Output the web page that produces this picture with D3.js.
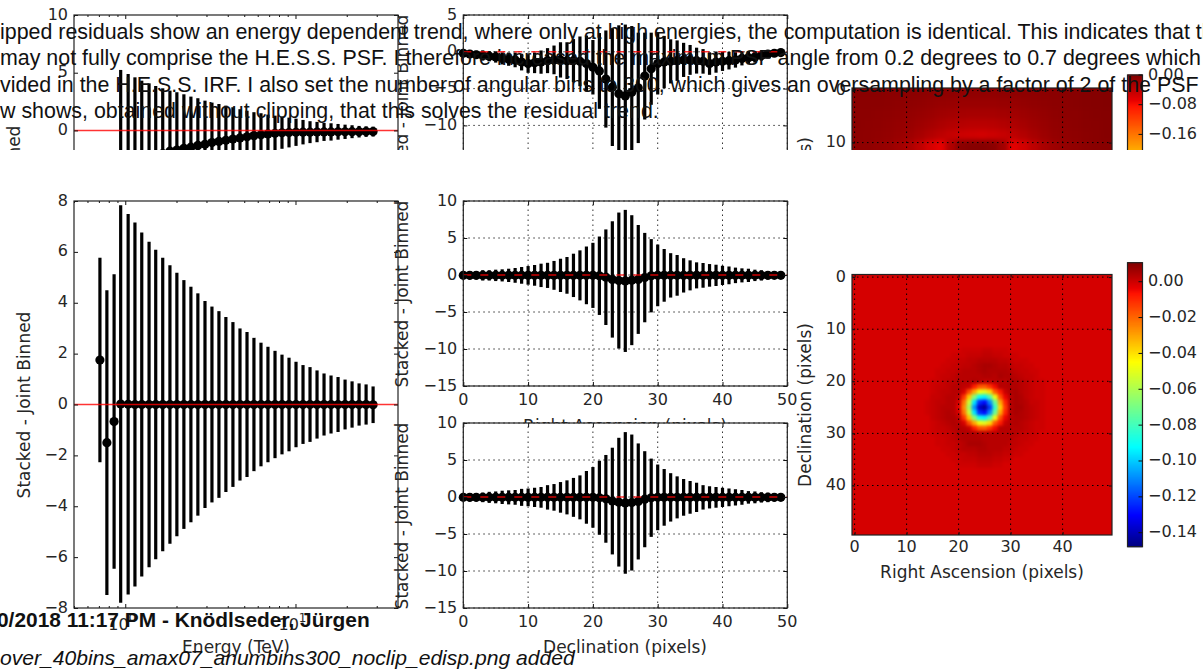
<!DOCTYPE html>
<html>
<head>
<meta charset="utf-8">
<script src="https://cdn.jsdelivr.net/npm/d3@7"></script>
<style>
    html, body { margin: 0; padding: 0; background: #fff; overflow: hidden; }
    svg { display: block; }
    .tick-label, .axis-label { font-family: "DejaVu Sans", sans-serif; fill: #262626; }
    .tick-label { font-size: 16px; }
    .axis-label { font-size: 17px; }
    .page-text { font-family: "Liberation Sans", Arial, sans-serif; font-size: 21.4px; fill: #111; }
</style>
</head>
<body>
<div id="chart"></div>
<script>
// Energy axis of the spectrum panels (TeV)
var energyBins = [0.71, 0.78, 0.86, 0.94, 1.04, 1.14, 1.25, 1.38, 1.51, 1.66,
    1.83, 2.01, 2.21, 2.43, 2.67, 2.94, 3.23, 3.55, 3.90, 4.29,
    4.72, 5.19, 5.70, 6.27, 6.89, 7.58, 8.33, 9.16, 10.07, 11.07,
    12.17, 13.38, 14.71, 16.17, 17.78, 19.55, 21.49, 23.63, 25.98, 28.56];

// Upper figure, clipped by the page: spectrum residuals
var clipEnergyResidual = [-9, -9, -9, -3.6, -3.3, -3.0, -2.8, -2.5, -2.3, -2.0,
    -1.8, -1.7, -1.55, -1.45, -1.3, -1.2, -1.05, -0.95, -0.85, -0.75,
    -0.65, -0.55, -0.45, -0.38, -0.3, -0.25, -0.2, -0.18, -0.16, -0.15,
    -0.15, -0.14, -0.13, -0.13, -0.12, -0.12, -0.11, -0.11, -0.1, -0.1];
var clipEnergyError = [4, 5, 5, 8.84, 8.19, 7.6, 7.11, 6.58, 6.15, 5.65,
    5.25, 5.01, 4.68, 4.38, 4.09, 3.78, 3.46, 3.24, 3.0, 2.76,
    2.49, 2.26, 2.03, 1.87, 1.67, 1.53, 1.39, 1.29, 1.18, 1.06,
    0.95, 0.88, 0.78, 0.75, 0.68, 0.62, 0.56, 0.5, 0.46, 0.43];

// Lower figure: spectrum residuals
var energyResidual = [1.75, -1.5, -0.67, 0.02, 0.01, 0, 0, 0, 0, 0,
    0, 0, 0, 0, 0, 0, 0, 0, 0, 0,
    0, 0, 0, 0, 0, 0, 0, 0, 0, 0,
    0, 0, 0, 0, 0, 0, 0, 0, 0, -0.01];
var energyError = [4.02, 5.99, 5.79, 7.81, 7.48, 7.15, 6.76, 6.40, 6.08, 5.77,
    5.47, 5.18, 4.89, 4.63, 4.37, 4.07, 3.85, 3.67, 3.44, 3.24,
    2.99, 2.85, 2.62, 2.43, 2.27, 2.11, 1.96, 1.84, 1.68, 1.55,
    1.47, 1.34, 1.22, 1.14, 1.08, 0.98, 0.91, 0.83, 0.79, 0.72];

// Pixel profiles
var pixelBins = d3.range(0, 50);

var clipRaResidual = [-0.2, -0.3, -0.4, -0.5, -0.6, -0.7, -0.9, -1.0, -1.1, -1.4,
    -1.6, -1.5, -1.4, -1.2, -1.1, -1.1, -1.2, -1.2, -1.3, -1.6,
    -2.1, -2.6, -3.7, -4.8, -5.7, -6.0, -5.5, -4.9, -3.3, -2.3,
    -1.6, -1.4, -1.3, -1.2, -1.1, -1.1, -1.2, -1.3, -1.6, -1.4,
    -1.3, -1.2, -1.1, -0.9, -0.8, -0.7, -0.5, -0.3, -0.2, -0.1];
var clipRaError = [0.5, 0.55, 0.55, 0.7, 0.7, 0.77, 0.82, 0.9, 1.0, 1.13,
    1.26, 1.4, 1.58, 1.7, 1.95, 2.4, 2.5, 2.93, 3.38, 3.8,
    3.7, 5.15, 6.6, 8.0, 9.3, 9.7, 9.0, 7.5, 5.9, 4.9,
    4.2, 3.56, 3.0, 2.75, 2.32, 2.03, 1.76, 1.67, 1.53, 1.44,
    1.3, 1.2, 1.05, 0.95, 0.9, 0.77, 0.7, 0.55, 0.45, 0.3];

var raResidual = [-0.05, -0.05, -0.05, -0.05, -0.05, -0.05, -0.05, -0.05, -0.05, -0.05,
    -0.05, -0.05, -0.05, -0.05, -0.05, -0.05, -0.05, -0.05, -0.05, -0.05,
    -0.05, -0.1, -0.3, -0.6, -0.75, -0.8, -0.7, -0.6, -0.35, -0.1,
    -0.05, -0.05, -0.05, -0.05, -0.05, -0.05, -0.05, -0.05, -0.05, -0.05,
    -0.05, -0.05, -0.05, -0.05, -0.05, -0.05, -0.05, -0.05, -0.05, -0.05];
var raError = [0.5, 0.55, 0.55, 0.7, 0.7, 0.77, 0.82, 0.9, 1.0, 1.13,
    1.26, 1.4, 1.58, 1.7, 1.95, 2.25, 2.48, 2.93, 3.38, 3.9,
    4.4, 5.3, 6.46, 7.86, 9.19, 9.6, 8.78, 7.36, 6.04, 4.95,
    4.17, 3.56, 3.0, 2.75, 2.32, 2.03, 1.76, 1.67, 1.53, 1.44,
    1.3, 1.2, 1.05, 0.95, 0.9, 0.77, 0.7, 0.55, 0.45, 0.3];

var decResidual = [-0.05, -0.05, -0.05, -0.05, -0.05, -0.05, -0.05, -0.05, -0.05, -0.05,
    -0.05, -0.05, -0.05, -0.05, -0.05, -0.05, -0.05, -0.05, -0.05, -0.05,
    -0.05, -0.1, -0.25, -0.55, -0.7, -0.8, -0.75, -0.6, -0.3, -0.1,
    -0.05, -0.05, -0.05, -0.05, -0.05, -0.05, -0.05, -0.05, -0.05, -0.05,
    -0.05, -0.05, -0.05, -0.05, -0.05, -0.05, -0.05, -0.05, -0.05, -0.05];
var decError = [0.45, 0.55, 0.55, 0.65, 0.75, 0.8, 0.9, 0.95, 1.0, 1.15,
    1.2, 1.3, 1.4, 1.65, 1.8, 2.07, 2.3, 2.63, 2.97, 3.56,
    4.1, 5.0, 5.93, 7.21, 8.7, 9.57, 9.19, 7.84, 6.49, 5.29,
    4.44, 3.83, 3.27, 2.84, 2.48, 2.21, 1.98, 1.65, 1.5, 1.4,
    1.3, 1.2, 1.1, 1.0, 0.85, 0.8, 0.7, 0.65, 0.55, 0.45];

// Residual map of the lower figure, central part only, in units of 0.001
var mapBackground = -1;
var mapFirstCell = 14;
var mapPatch = [
    [-1, -1, -1, -1, -1, -1, -1, 0, 0, 0, 0, 1, 1, 0, 0, 0, -1, -1, -1, -1, -1, -1, -1],
    [-1, -1, -1, -1, -1, 0, 0, 0, 1, 1, 1, 2, 2, 1, 1, 0, 0, 0, -1, -1, -1, -1, -1],
    [-1, -1, -1, -1, 0, 0, 1, 1, 2, 2, 3, 3, 3, 3, 2, 2, 1, 0, 0, 0, -1, -1, -1],
    [-1, -1, -1, 0, 0, 1, 1, 2, 2, 3, 4, 5, 5, 4, 3, 3, 2, 1, 1, 0, 0, -1, -1],
    [-1, -1, 0, 0, 1, 1, 2, 3, 3, 3, 4, 5, 4, 4, 4, 4, 3, 2, 1, 1, 0, 0, -1],
    [-1, -1, 0, 1, 1, 2, 3, 3, 3, 3, 3, 4, 4, 3, 5, 4, 4, 3, 2, 1, 1, 0, -1],
    [-1, 0, 0, 1, 2, 2, 3, 3, 3, 4, 3, 2, 2, 3, 3, 3, 4, 4, 3, 2, 1, 0, 0],
    [-1, 0, 1, 1, 2, 3, 3, 2, 1, -8, -17, -18, -12, -5, 3, 3, 4, 4, 3, 2, 1, 0, 0],
    [-1, 0, 1, 2, 2, 3, 3, -1, -16, -31, -47, -50, -40, -18, -8, 1, 4, 5, 3, 2, 1, 0, 0],
    [-1, 1, 1, 2, 3, 3, 2, -12, -36, -67, -90, -94, -78, -48, -17, -4, 3, 5, 4, 2, 1, 0, 0],
    [0, 1, 2, 2, 3, 3, -1, -22, -54, -96, -124, -129, -110, -73, -31, -9, 3, 5, 4, 3, 1, 1, 0],
    [0, 1, 2, 3, 3, 3, -3, -26, -62, -108, -138, -144, -122, -83, -38, -12, 3, 5, 5, 3, 2, 1, 0],
    [0, 1, 2, 3, 4, 3, -1, -22, -54, -96, -124, -129, -110, -73, -31, -9, 3, 5, 4, 3, 2, 1, 0],
    [-1, 1, 2, 3, 4, 4, 2, -12, -36, -67, -90, -94, -78, -48, -17, -4, 3, 4, 4, 3, 2, 1, 0],
    [-1, 0, 1, 2, 3, 4, 3, -1, -16, -31, -47, -50, -40, -18, -8, 1, 3, 4, 3, 2, 1, 0, 0],
    [-1, 0, 1, 1, 2, 3, 4, 3, 1, -8, -17, -18, -12, -5, 3, 3, 3, 3, 3, 2, 1, 0, 0],
    [-1, 0, 0, 1, 1, 2, 4, 4, 4, 4, 3, 3, 3, 3, 3, 3, 3, 3, 2, 1, 1, 0, -1],
    [-1, -1, 0, 0, 1, 2, 3, 4, 4, 4, 4, 3, 3, 3, 3, 3, 3, 2, 1, 1, 0, 0, -1],
    [-1, -1, 0, 0, 1, 1, 2, 3, 5, 5, 5, 4, 3, 3, 3, 3, 2, 2, 1, 0, 0, -1, -1],
    [-1, -1, -1, 0, 0, 1, 2, 3, 3, 3, 4, 4, 3, 3, 3, 2, 2, 1, 0, 0, -1, -1, -1],
    [-1, -1, -1, -1, 0, 0, 1, 1, 2, 2, 3, 3, 3, 2, 2, 1, 1, 0, 0, -1, -1, -1, -1],
    [-1, -1, -1, -1, -1, 0, 0, 1, 1, 1, 2, 2, 2, 1, 1, 0, 0, -1, -1, -1, -1, -1, -1],
    [-1, -1, -1, -1, -1, -1, 0, 0, 0, 0, 1, 1, 1, 0, 0, -1, -1, -1, -1, -1, -1, -1, -1]
];

// Residual map of the upper figure, only the top rows show. Cells are 2x2 pixels
var clipMapRows = [
    [-6, -6, -6, -7, -7, -8, -8, -9, -10, -10, -11, -11, -11, -11, -10, -10, -9, -9, -8, -7, -6, -5, -4, -3, -2],
    [-7, -7, -7, -8, -9, -10, -11, -13, -15, -16, -17, -17, -17, -17, -16, -15, -13, -11, -10, -8, -7, -5, -4, -3, -2],
    [-8, -8, -9, -10, -11, -13, -15, -18, -21, -23, -25, -26, -26, -26, -24, -22, -19, -16, -13, -10, -8, -7, -5, -4, -3],
    [-8, -9, -10, -12, -14, -16, -20, -24, -29, -33, -36, -38, -38, -37, -34, -30, -25, -20, -16, -12, -10, -8, -6, -5, -4],
    [-9, -10, -11, -13, -16, -20, -26, -33, -40, -46, -50, -52, -54, -51, -47, -41, -34, -26, -19, -14, -11, -9, -7, -6, -4],
    [-9, -10, -13, -16, -22, -30, -42, -57, -67, -32, -7, -4, -4, -7, -22, -64, -54, -40, -27, -19, -14, -11, -8, -6, -5],
    [-9, -10, -13, -16, -22, -30, -42, -57, -67, -32, -7, -4, -4, -7, -22, -64, -54, -40, -27, -19, -14, -11, -8, -6, -5]
];

// Tick labels
var energyYTicks = [-8, -6, -4, -2, 0, 2, 4, 6, 8];
var clipEnergyYTicks = [-5, 0, 5, 10];
var profileXTicks = [0, 10, 20, 30, 40, 50];
var profileYTicks = [-15, -10, -5, 0, 5, 10];
var clipProfileYTicks = [-15, -10, -5, 0, 5];
var energyMajorTicks = [1, 10];
var energyMinorTicks = [0.5, 0.6, 0.7, 0.8, 0.9, 2, 3, 4, 5, 6, 7, 8, 9, 20, 30, 40];
var mapTicks = [0, 10, 20, 30, 40];
var colorbarTicks = [0, -0.02, -0.04, -0.06, -0.08, -0.10, -0.12, -0.14];
var clipColorbarTicks = [0, -0.08, -0.16];

// Text of the page the figures are embedded in
var pageLines = [
    "ipped residuals show an energy dependent trend, where only at high energies, the computation is identical. This indicates that th",
    "may not fully comprise the H.E.S.S. PSF. I therefore increased the maximum PSF angle from 0.2 degrees to 0.7 degrees which c",
    "vided in the H.E.S.S. IRF. I also set the number of angular bins to 300, which gives an oversampling by a factor of 2 of the PSF",
    "w shows, obtained without clipping, that this solves the residual trend."
];
var pageAuthor = "0/2018 11:17 PM - Knödlseder, Jürgen";
var pageFile = "over_40bins_amax07_anumbins300_noclip_edisp.png added";

var svg = d3.select("#chart").append("svg")
    .attr("width", 1203)
    .attr("height", 669);

svg.append("rect").attr("width", 1203).attr("height", 669).attr("fill", "#fff");

var defs = svg.append("defs");
defs.append("clipPath").attr("id", "pageClip")
    .append("rect").attr("width", 1203).attr("height", 150);

function addBlur(id, dev) {
    defs.append("filter").attr("id", id)
        .attr("x", "-5%").attr("y", "-5%").attr("width", "110%").attr("height", "110%")
        .attr("color-interpolation-filters", "sRGB")
        .append("feGaussianBlur").attr("stdDeviation", dev);
}
addBlur("mapBlur", 1.8);
addBlur("clipMapBlur", 2.5);

function jet(t) {
    return d3.scaleLinear()
        .domain([0, 0.11, 0.35, 0.5, 0.65, 0.89, 0.91, 1])
        .range(["#000080", "#0000ff", "#00ffff", "#7fff7f", "#ffff00", "#ff1400", "#e80000", "#800000"])
        .clamp(true)(t);
}

// Ticks point into the axes and are drawn on all four sides
function addAxes(g, x, y, xTicks, yTicks, size) {
    var box = { left: x.range()[0], right: x.range()[1], top: y.range()[1], bottom: y.range()[0] };
    [
        [d3.axisBottom(x).tickValues(xTicks).tickSize(-size), box.bottom, "y"],
        [d3.axisTop(x).tickValues(xTicks).tickSize(-size), box.top, "y"],
        [d3.axisLeft(y).tickValues(yTicks).tickSize(-size), box.left, "x"],
        [d3.axisRight(y).tickValues(yTicks).tickSize(-size), box.right, "x"]
    ].forEach(function(a) {
        var axis = g.append("g")
            .attr("transform", a[2] === "y" ? "translate(0," + a[1] + ")" : "translate(" + a[1] + ",0)")
            .call(a[0].tickFormat("").tickSizeOuter(0));
        axis.select(".domain").remove();
        axis.selectAll("line").attr("stroke", "#111");
    });
}

function addTickLabels(g, x, y, xTicks, yTicks, xGap, yGap, format) {
    g.selectAll(".x-label").data(xTicks).enter().append("text")
        .attr("class", "tick-label")
        .attr("x", function(d) { return x(d); })
        .attr("y", y.range()[0] + xGap)
        .attr("text-anchor", "middle")
        .attr("dominant-baseline", "middle")
        .text(function(d) { return d; });
    g.selectAll(".y-label").data(yTicks).enter().append("text")
        .attr("class", "tick-label")
        .attr("x", x.range()[0] - yGap)
        .attr("y", function(d) { return y(d); })
        .attr("text-anchor", "end")
        .attr("dominant-baseline", "middle")
        .text(function(d) { return format ? format(d) : d3.format("d")(d); });
}

function addVerticalLabel(g, text, x, y) {
    g.append("text")
        .attr("class", "axis-label")
        .attr("transform", "translate(" + x + "," + y + ") rotate(-90)")
        .attr("text-anchor", "middle")
        .attr("dominant-baseline", "middle")
        .text(text);
}

function addHorizontalLabel(g, text, x, y) {
    g.append("text")
        .attr("class", "axis-label")
        .attr("x", x)
        .attr("y", y)
        .attr("text-anchor", "middle")
        .attr("dominant-baseline", "middle")
        .text(text);
}

function addFrame(g, x, y) {
    g.append("rect")
        .attr("x", x.range()[0])
        .attr("y", y.range()[1])
        .attr("width", x.range()[1] - x.range()[0])
        .attr("height", y.range()[0] - y.range()[1])
        .attr("fill", "none")
        .attr("stroke", "#222")
        .attr("stroke-width", 1.2);
}

function addGrid(g, x, y, xTicks, yTicks, colour) {
    g.selectAll(".grid-x").data(xTicks).enter().append("line")
        .attr("x1", function(d) { return x(d); })
        .attr("x2", function(d) { return x(d); })
        .attr("y1", y.range()[0])
        .attr("y2", y.range()[1])
        .attr("stroke", colour)
        .attr("stroke-dasharray", "1.5,3.5");
    g.selectAll(".grid-y").data(yTicks).enter().append("line")
        .attr("x1", x.range()[0])
        .attr("x2", x.range()[1])
        .attr("y1", function(d) { return y(d); })
        .attr("y2", function(d) { return y(d); })
        .attr("stroke", colour)
        .attr("stroke-dasharray", "1.5,3.5");
}

function addPanelBackground(g, x, y) {
    g.append("rect")
        .attr("x", x.range()[0])
        .attr("y", y.range()[1])
        .attr("width", x.range()[1] - x.range()[0])
        .attr("height", y.range()[0] - y.range()[1])
        .attr("fill", "#fff");
}

function addErrorbars(g, x, y, bins, values, errors) {
    g.selectAll(".bar").data(bins).enter().append("line")
        .attr("x1", function(d) { return x(d); })
        .attr("x2", function(d) { return x(d); })
        .attr("y1", function(d, i) { return y(values[i] - errors[i]); })
        .attr("y2", function(d, i) { return y(values[i] + errors[i]); })
        .attr("stroke", "#000")
        .attr("stroke-width", 3.2);
    g.selectAll(".dot").data(bins).enter().append("circle")
        .attr("cx", function(d) { return x(d); })
        .attr("cy", function(d, i) { return y(values[i]); })
        .attr("r", 4.6)
        .attr("fill", "#000");
}

function addZeroLine(g, x, y, dash) {
    g.append("line")
        .attr("x1", x.range()[0])
        .attr("x2", x.range()[1])
        .attr("y1", y(0))
        .attr("y2", y(0))
        .attr("stroke", "#f00")
        .attr("stroke-opacity", 0.8)
        .attr("stroke-width", 1.5)
        .attr("stroke-dasharray", dash);
}

// Spectrum panel with logarithmic energy axis
function drawEnergyPanel(g, top, bottom, yDomain, yTicks, values, errors) {
    var x = d3.scaleLog().domain([0.5, 40]).range([74, 398]);
    var y = d3.scaleLinear().domain(yDomain).range([bottom, top]);

    addPanelBackground(g, x, y);
    var plot = g.append("g");
    addErrorbars(plot, x, y, energyBins, values, errors);
    addZeroLine(g, x, y, null);
    addAxes(g, x, y, energyMajorTicks, yTicks, 4);
    addAxes(g, x, y, energyMinorTicks, [], 2);
    addFrame(g, x, y);

    g.selectAll(".y-label").data(yTicks).enter().append("text")
        .attr("class", "tick-label")
        .attr("x", 68)
        .attr("y", function(d) { return y(d); })
        .attr("text-anchor", "end")
        .attr("dominant-baseline", "middle")
        .text(function(d) { return d3.format("d")(d); });

    g.selectAll(".x-label").data(energyMajorTicks).enter().append("text")
        .attr("class", "tick-label")
        .attr("x", function(d) { return x(d) - 3; })
        .attr("y", bottom + 17)
        .attr("text-anchor", "middle")
        .attr("dominant-baseline", "middle")
        .text("10")
        .append("tspan")
        .attr("dy", -7)
        .style("font-size", "12px")
        .text(function(d) { return d === 1 ? "0" : "1"; });
}

// Profile panel with linear pixel axis
function drawProfilePanel(g, top, bottom, yDomain, yTicks, values, errors) {
    var x = d3.scaleLinear().domain([0, 50]).range([463.3, 787.3]);
    var y = d3.scaleLinear().domain(yDomain).range([bottom, top]);

    addPanelBackground(g, x, y);
    addGrid(g, x, y, profileXTicks, yTicks, "#333");
    addErrorbars(g, x, y, pixelBins, values, errors);
    addZeroLine(g, x, y, "8,9");
    addAxes(g, x, y, profileXTicks, yTicks, 4);
    addFrame(g, x, y);
    addTickLabels(g, x, y, profileXTicks, yTicks, 14, 6);
}

// Colour bar drawn as thin slices
function drawColorbar(g, top, bottom, domain, ticks, format) {
    var y = d3.scaleLinear().domain(domain).range([bottom, top]);
    var levels = d3.range(0, 1, 1 / 256);
    g.selectAll(".slice").data(levels).enter().append("rect")
        .attr("x", 1127.5)
        .attr("width", 15)
        .attr("y", function(d) { return bottom - (d + 1 / 256) * (bottom - top) - 0.5; })
        .attr("height", (bottom - top) / 256 + 1)
        .attr("fill", function(d) { return jet(d); });
    g.append("rect")
        .attr("x", 1127.5).attr("y", top)
        .attr("width", 15).attr("height", bottom - top)
        .attr("fill", "none").attr("stroke", "#222").attr("stroke-width", 1.2);
    g.selectAll(".cb-tick").data(ticks).enter().append("line")
        .attr("x1", 1138.5).attr("x2", 1142.5)
        .attr("y1", function(d) { return y(d); })
        .attr("y2", function(d) { return y(d); })
        .attr("stroke", "#111");
    g.selectAll(".cb-label").data(ticks).enter().append("text")
        .attr("class", "tick-label")
        .attr("x", 1148)
        .attr("y", function(d) { return y(d); })
        .attr("dominant-baseline", "middle")
        .text(function(d) { return format(d); });
}

var percentFormat = d3.format(".2f");

// Upper figure, cut off by the page at y = 150
var clipFigure = svg.append("g").attr("clip-path", "url(#pageClip)");

addVerticalLabel(clipFigure, "Stacked - Joint Binned", 15, 219);
addVerticalLabel(clipFigure, "Stacked - Joint Binned", 403, 108);
addVerticalLabel(clipFigure, "Declination (pixels)", 806, 219);

drawEnergyPanel(clipFigure, 15, 419, [-25, 10], clipEnergyYTicks, clipEnergyResidual, clipEnergyError);
drawProfilePanel(clipFigure, 15, 199, [-20, 5], clipProfileYTicks, clipRaResidual, clipRaError);

(function() {
    var x = d3.scaleLinear().domain([-0.5, 49.5]).range([852, 1112]);
    var y = d3.scaleLinear().domain([49.5, -0.5]).range([348, 88]);
    var colour = d3.scaleLinear().domain([-0.765, 0]).range([0, 1]);
    var rows = d3.range(0, clipMapRows.length);

    defs.append("clipPath").attr("id", "clipMapBox").append("rect")
        .attr("x", 852).attr("y", 88).attr("width", 260).attr("height", 62);

    var image = clipFigure.append("g").attr("clip-path", "url(#clipMapBox)")
        .append("g").attr("filter", "url(#clipMapBlur)");
    rows.forEach(function(r) {
        image.selectAll(".cell-" + r).data(clipMapRows[r]).enter().append("rect")
            .attr("x", function(d, c) { return x(c * 2 - 0.5) - (c === 0 ? 20 : 0); })
            .attr("y", y(r * 2 - 0.5) - (r === 0 ? 20 : 0))
            .attr("width", function(d, c) { return x(2) - x(0) + 1 + (c === 0 || c === 24 ? 20 : 0); })
            .attr("height", y(2) - y(0) + 1 + (r === 0 ? 20 : 0))
            .attr("fill", function(d) { return jet(colour(d / 1000)); });
    });

    addGrid(clipFigure, x, y, mapTicks, mapTicks, "#000");
    addAxes(clipFigure, x, y, mapTicks, mapTicks, 3);
    addFrame(clipFigure, x, y);
    addTickLabels(clipFigure, x, y, [], mapTicks, 12, 6);

    drawColorbar(clipFigure, 75, 359, [-0.765, 0], clipColorbarTicks, percentFormat);
})();

// Lower figure
var figure = svg.append("g");

addVerticalLabel(figure, "Stacked - Joint Binned", 25, 405);
addHorizontalLabel(figure, "Energy (TeV)", 236, 648);
drawEnergyPanel(figure, 201, 608, [-8, 8], energyYTicks, energyResidual, energyError);

addHorizontalLabel(figure, "Right Ascension (pixels)", 625, 427);
addVerticalLabel(figure, "Stacked - Joint Binned", 403, 294);
drawProfilePanel(figure, 201, 386, [-15, 10], profileYTicks, raResidual, raError);
addVerticalLabel(figure, "Stacked - Joint Binned", 403, 516);
addHorizontalLabel(figure, "Declination (pixels)", 625, 648);
drawProfilePanel(figure, 423, 608, [-15, 10], profileYTicks, decResidual, decError);

(function() {
    var x = d3.scaleLinear().domain([-0.5, 49.5]).range([852, 1112]);
    var y = d3.scaleLinear().domain([49.5, -0.5]).range([535, 274.5]);
    var colour = d3.scaleLinear().domain([-0.1478, 0.0106]).range([0, 1]);

    defs.append("clipPath").attr("id", "mapBox").append("rect")
        .attr("x", 852).attr("y", 274.5).attr("width", 260).attr("height", 260.5);

    var image = figure.append("g").attr("clip-path", "url(#mapBox)")
        .append("g").attr("filter", "url(#mapBlur)");

    image.append("rect")
        .attr("x", 832).attr("y", 254)
        .attr("width", 300).attr("height", 300)
        .attr("fill", jet(colour(mapBackground / 1000)));

    mapPatch.forEach(function(row, r) {
        image.selectAll(".cell-" + r).data(row).enter().append("rect")
            .attr("x", function(d, c) { return x(mapFirstCell + c - 0.5); })
            .attr("y", y(mapFirstCell + r - 0.5))
            .attr("width", x(1) - x(0) + 0.5)
            .attr("height", y(1) - y(0) + 0.5)
            .attr("fill", function(d) { return jet(colour(d / 1000)); });
    });

    addGrid(figure, x, y, mapTicks, mapTicks, "#000");
    addAxes(figure, x, y, mapTicks, mapTicks, 3);
    addFrame(figure, x, y);
    addTickLabels(figure, x, y, mapTicks, mapTicks, 12, 6);

    addVerticalLabel(figure, "Declination (pixels)", 806, 405);
    addHorizontalLabel(figure, "Right Ascension (pixels)", 982, 573);

    drawColorbar(figure, 262.7, 546.7, [-0.1478, 0.0106], colorbarTicks, percentFormat);
})();

// Page text lies on top of the figures
svg.selectAll(".page-line").data(pageLines).enter().append("text")
    .attr("class", "page-text")
    .attr("x", 0)
    .attr("y", function(d, i) { return 38.5 + i * 26.6; })
    .text(function(d) { return d; });

svg.append("text")
    .attr("class", "page-text")
    .attr("x", -3)
    .attr("y", 626.5)
    .style("font-weight", "bold")
    .style("font-size", "20.9px")
    .text(pageAuthor);

svg.append("text")
    .attr("class", "page-text")
    .attr("x", 0)
    .attr("y", 665)
    .style("font-style", "italic")
    .style("font-size", "21.1px")
    .text(pageFile);
</script>
</body>
</html>
